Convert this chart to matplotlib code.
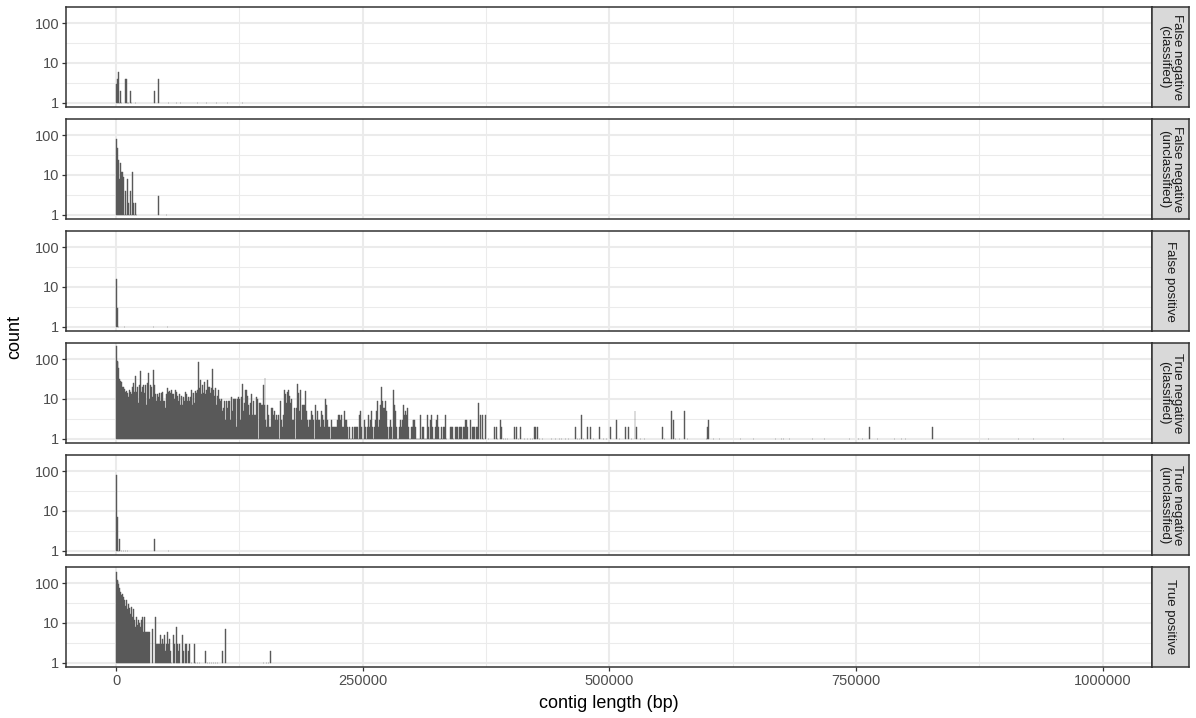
import matplotlib
matplotlib.use("Agg")
from matplotlib import pyplot as plt
from matplotlib.ticker import FixedLocator, FixedFormatter, NullFormatter
import numpy as np

# histogram bins are 1 kb wide; positions below are bin indices (kb)
facets = ["False negative\n(classified)", "False negative\n(unclassified)", "False positive",
          "True negative\n(classified)", "True negative\n(unclassified)", "True positive"]

fn_cls_bins = [0, 1, 3, 4, 5, 6, 10, 11, 12, 13, 15, 16, 20, 39, 43, 53, 61, 65, 83, 92, 102, 113, 128]
fn_cls_counts = [3, 4, 6, 1, 2, 1, 4, 4, 1, 1, 2, 1, 1, 2, 4, 1, 1, 1, 1, 1, 1, 1, 1]

fn_unc_bins = list(range(0, 22)) + [43, 51]
fn_unc_counts = [80, 47, 8, 24, 8, 20, 12, 12, 9, 1, 4, 1, 8, 2, 1, 4, 1, 12, 2, 1, 2, 1, 3, 1]

fp_bins = [0, 1, 2, 3, 9, 38, 52]
fp_counts = [16, 3, 1, 1, 1, 1, 1]

# true negative (classified): dense part read in three stretches, then sparse tail
tn_cls_a = [211, 89, 84, 62, 32, 29, 26, 20, 20, 18, 15, 16, 14, 11, 17, 15, 13, 20, 25, 15,
            38, 15, 20, 8, 22, 50, 15, 20, 22, 14, 22, 7, 25, 44, 10, 22, 20, 11, 55, 22,
            13, 9, 13, 11, 14, 9, 14, 15, 9, 9, 6, 13, 19, 15, 16, 14, 17, 13, 13, 10,
            17, 15, 12, 9, 13, 7, 12, 7, 11, 9, 15, 13, 9, 11, 9, 11, 17, 14, 7, 14,
            8, 16, 14, 17, 83, 19, 30, 13, 22, 14, 27, 13, 17, 30, 20, 20, 14, 19, 56, 17,
            12, 19, 7, 12, 17, 10, 9, 10, 5, 6, 9, 3, 9, 6]
tn_cls_b = [9, 9, 3, 11, 5, 10, 10, 10, 2, 10, 11, 10, 3, 11, 24, 5, 8, 17, 17, 12,
            7, 4, 8, 13, 4, 9, 4, 4, 11, 10, 1, 8, 8, 7, 7, 22, 7, 33, 3, 2,
            7, 4, 2, 2, 6, 6, 4, 5, 3, 4, 3, 4, 1, 9, 3, 2, 4, 17, 13, 8,
            15, 17, 12, 8, 10, 3, 3, 6, 1, 6, 24, 14, 5, 17, 3, 7, 7, 7, 16, 5,
            3, 2, 3, 3, 5, 4, 3, 1, 7, 3, 5, 3, 3, 2, 5, 4, 3, 2, 10, 7,
            3, 2, 2, 1, 3, 2, 2, 2, 2, 2, 3, 4, 2, 4, 3, 4, 2, 2, 5, 3]
tn_cls_c = [3, 2, 1, 2, 1, 1, 2, 1, 2, 2, 2, 2, 1, 4, 5, 2, 1, 1, 3, 2,
            1, 2, 4, 2, 3, 5, 2, 1, 2, 3, 5, 9, 2, 3, 7, 20, 9, 6, 6, 9,
            5, 2, 1, 2, 3, 2, 1, 17, 7, 5, 2, 1, 1, 2, 3, 2, 3, 7, 4, 5,
            4, 6, 2, 1, 1, 2, 2, 3, 3, 3, 2, 1, 1, 1, 1, 4, 1, 2, 2, 1,
            1, 1, 4, 2, 1, 3, 4, 2, 1, 1, 2, 3, 4, 2, 1, 1, 2, 1, 2, 2,
            4, 1, 0, 0, 0, 2, 2, 2, 1, 0, 2, 2, 2, 1, 2, 2, 2, 1, 2, 2]
tn_cls_tail_bins = [354, 355, 356, 359, 361, 362, 363, 365, 366, 367, 369, 371, 372, 374, 376, 378,
                    384, 386, 387, 390, 391, 393, 395, 397, 404, 406, 408, 410, 414, 417, 420, 422,
                    424, 425, 427, 429, 432, 441, 445, 449, 452, 456, 459, 466, 468, 470, 472, 474,
                    478, 481, 484, 490, 494, 497, 501, 507, 510, 516, 519, 522, 526, 528, 532, 536,
                    554, 556, 563, 565, 567, 571, 576, 579, 598, 599, 600, 606, 612, 633, 646, 668,
                    674, 677, 683, 706, 718, 743, 753, 757, 764, 772, 789, 796, 800, 828, 884, 915,
                    930, 960, 975]
tn_cls_tail_counts = [3, 3, 2, 3, 2, 2, 2, 2, 2, 8, 4, 4, 1, 4, 1, 1,
                      2, 2, 1, 3, 2, 1, 1, 1, 2, 2, 1, 2, 1, 1, 1, 1,
                      2, 2, 2, 1, 1, 1, 1, 1, 1, 1, 1, 2, 1, 1, 4, 1,
                      2, 2, 1, 2, 1, 1, 2, 3, 1, 2, 2, 1, 5, 2, 1, 1,
                      2, 1, 5, 3, 1, 1, 5, 1, 1, 2, 3, 1, 1, 1, 1, 1,
                      1, 1, 1, 1, 1, 1, 1, 1, 2, 1, 1, 1, 1, 2, 1, 1,
                      1, 1, 1]

tn_unc_bins = [0, 1, 2, 3, 4, 6, 8, 10, 12, 39, 53]
tn_unc_counts = [80, 7, 1, 1, 2, 1, 1, 1, 1, 2, 1]

tp_head = [188, 118, 112, 96, 76, 61, 52, 55, 45, 38, 27, 37, 23, 30, 24, 17, 25, 14, 22, 12,
           8, 14, 9, 12, 10, 8, 12, 14, 6, 14, 6, 6, 6, 6, 6]
tp_tail_bins = [37, 40, 41, 42, 43, 44, 45, 46, 47, 48, 49, 50, 51, 52, 53, 54, 55, 56, 58, 59,
                61, 62, 63, 64, 67, 68, 70, 71, 73, 74, 76, 80, 81, 83, 85, 91, 93, 95, 97, 99,
                101, 103, 108, 111, 149, 151, 153, 155, 157]
tp_tail_counts = [7, 14, 3, 3, 3, 3, 5, 3, 4, 3, 5, 2, 3, 6, 3, 4, 2, 1, 5, 3,
                  8, 3, 2, 3, 5, 2, 3, 3, 2, 3, 1, 3, 1, 1, 1, 2, 1, 1, 1, 1,
                  1, 1, 2, 7, 1, 1, 1, 1, 2]

tn_cls_bins = (list(range(0, len(tn_cls_a))) + list(range(114, 114 + len(tn_cls_b)))
               + list(range(234, 234 + len(tn_cls_c))) + tn_cls_tail_bins)
tn_cls_counts = tn_cls_a + tn_cls_b + tn_cls_c + tn_cls_tail_counts
tp_bins = list(range(len(tp_head))) + tp_tail_bins
tp_counts = tp_head + tp_tail_counts

data = [(fn_cls_bins, fn_cls_counts), (fn_unc_bins, fn_unc_counts), (fp_bins, fp_counts),
        (tn_cls_bins, tn_cls_counts), (tn_unc_bins, tn_unc_counts), (tp_bins, tp_counts)]

plt.rcParams['font.family'] = ['Liberation Sans', 'DejaVu Sans']
W, H = 1196, 718
fig = plt.figure(figsize=(W / 100, H / 100), dpi=100)
axes = fig.subplots(6, 1, sharex=True)
fig.subplots_adjust(left=66 / W, right=1152 / W, top=1 - 7 / H, bottom=1 - 667 / H, hspace=0.12)

binwidth = 1000
for ax, name, (bins, counts) in zip(axes, facets, data):
    bins = np.array(bins)
    counts = np.array(counts, dtype=float)
    keep = counts > 0
    x = bins[keep] * binwidth
    c = counts[keep]
    ax.set_yscale('log')
    ax.bar(x, c - 1, bottom=1, width=binwidth, color='#595959', edgecolor='#595959',
           linewidth=0.3, zorder=2)
    ax.set_ylim(10 ** -0.11, 10 ** 2.41)
    ax.set_xlim(-50700, 1050000)
    ax.yaxis.set_major_locator(FixedLocator([1, 10, 100]))
    ax.yaxis.set_major_formatter(FixedFormatter(["1", "10", "100"]))
    ax.yaxis.set_minor_locator(FixedLocator([10 ** 0.5, 10 ** 1.5]))
    ax.yaxis.set_minor_formatter(NullFormatter())
    ax.xaxis.set_major_locator(FixedLocator([0, 250000, 500000, 750000, 1000000]))
    ax.xaxis.set_minor_locator(FixedLocator([125000, 375000, 625000, 875000]))
    ax.grid(which='major', color='#EBEBEB', linewidth=1.45, zorder=0)
    ax.grid(which='minor', color='#EBEBEB', linewidth=0.75, zorder=0)
    ax.set_axisbelow(True)
    for s in ax.spines.values():
        s.set_color('#333333')
        s.set_linewidth(1.1)
    ax.tick_params(which='major', length=3, width=0.9, color='#333333', labelsize=10.5,
                   labelcolor='#4D4D4D', pad=2)
    ax.tick_params(which='minor', length=0)
    ax.tick_params(axis='x', which='major', labelbottom=False, length=0)

    # facet strip on the right
    pos = ax.get_position()
    sax = fig.add_axes([1152 / W, pos.y0, 37 / W, pos.height])
    sax.set_facecolor('#D9D9D9')
    sax.set_xticks([])
    sax.set_yticks([])
    for s in sax.spines.values():
        s.set_color('#333333')
        s.set_linewidth(1.1)
    sax.text(0.5, 0.5, name, rotation=270, ha='center', va='center', fontsize=9.5,
             color='#1A1A1A', linespacing=1.05, transform=sax.transAxes)

axes[-1].tick_params(axis='x', which='major', labelbottom=True, length=3)
axes[-1].set_xticklabels(["0", "250000", "500000", "750000", "1000000"])

fig.text(0.5093, 1 - 703 / H, "contig length (bp)", ha='center', va='center', fontsize=13)
fig.text(15 / W, 1 - 337 / H, "count", ha='center', va='center', rotation=90, fontsize=13)

fig.savefig("out.png", dpi=100)
